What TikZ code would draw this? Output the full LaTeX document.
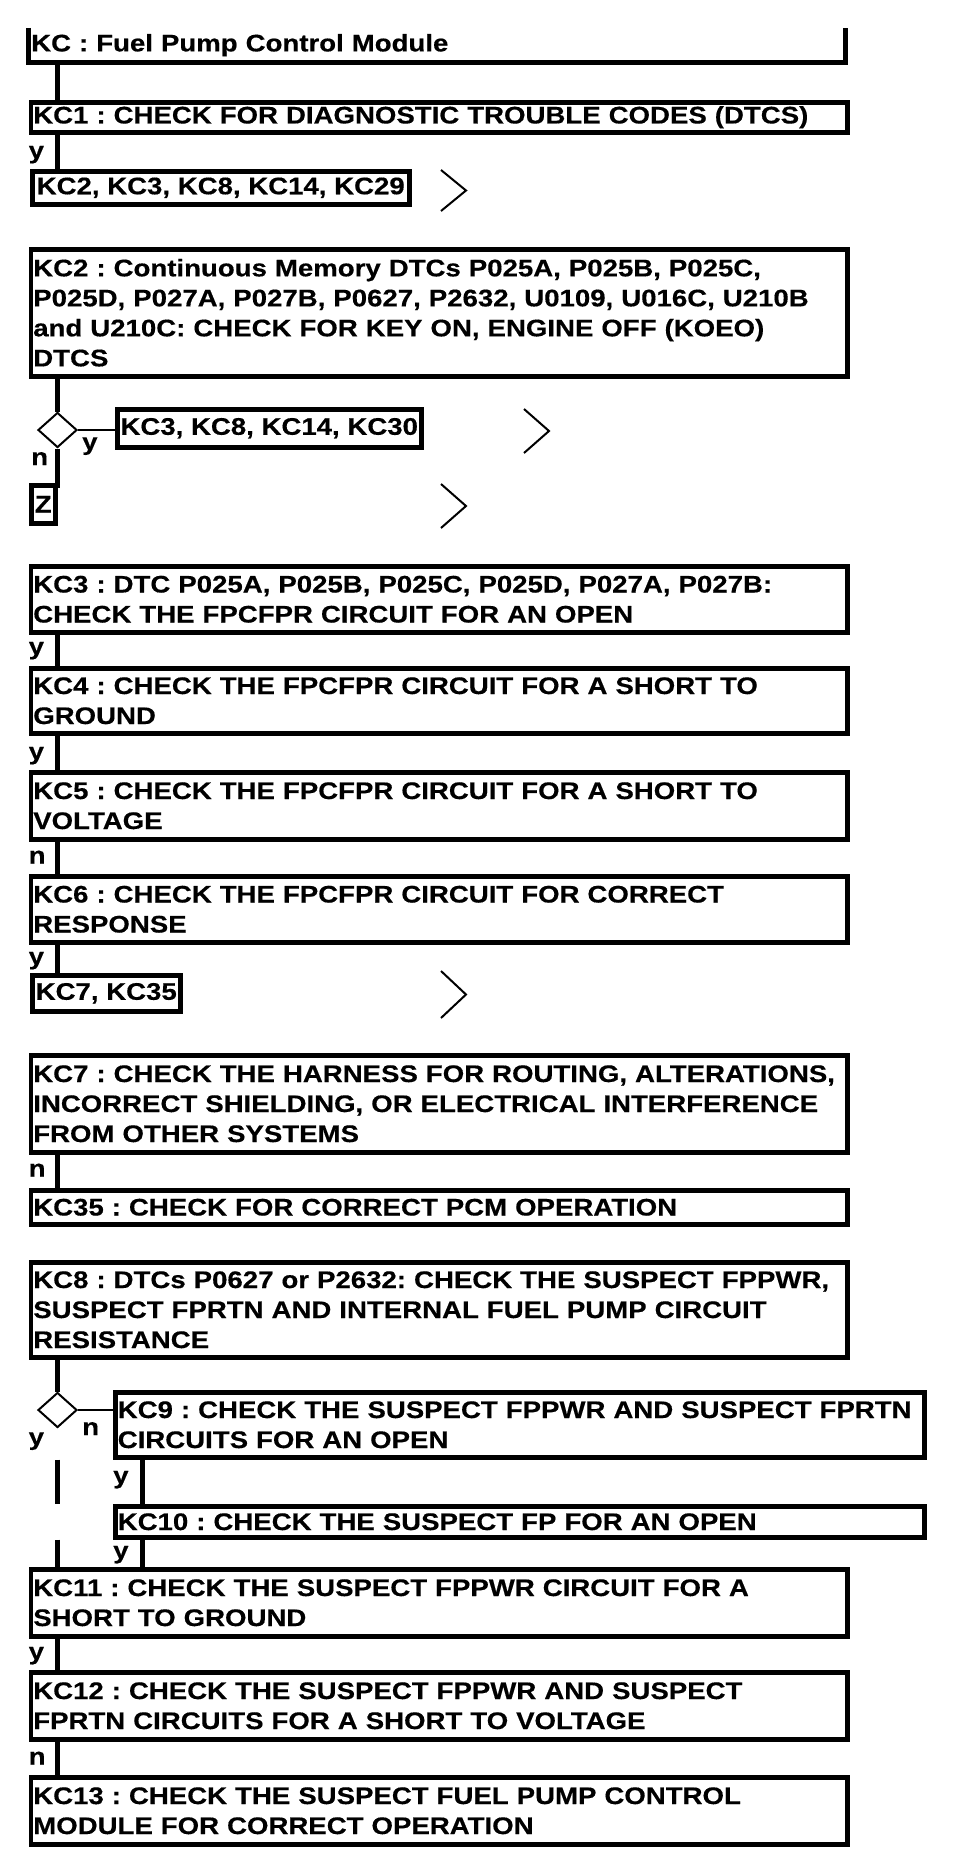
\documentclass[tikz,border=0pt]{standalone}
\usepackage{fontspec}
\setmainfont{Liberation Sans}[FakeStretch=1.15,BoldFeatures={FakeStretch=1.15,FakeBold=0.4}]
\usetikzlibrary{calc,shapes.geometric}
\frenchspacing
\begin{document}
\begin{tikzpicture}[x=1pt,y=-1pt,
  txt/.style={font=\fontsize{24pt}{30pt}\selectfont\bfseries\frenchspacing},
  box/.style={txt,draw,line width=4.5pt,rectangle,anchor=north west,inner xsep=2.5pt,inner ysep=0pt,align=left},
  bigbox/.style={box,text width=811.5pt},
  widebox/.style={box,text width=804pt},
  lbl/.style={txt,inner sep=0pt,anchor=base west},
  conn/.style={line width=5pt},
  thinline/.style={line width=2pt},
  chev/.style={line width=2pt},
  dia/.style={draw,line width=2pt,diamond,inner sep=0pt,minimum width=39pt,minimum height=35pt}]
\useasboundingbox[fill=white] (0,0) rectangle (960,1860);
\coordinate (trunk) at (57.5,0);
\coordinate (col2) at (142.5,0);

% title
\node[txt,anchor=north west,inner xsep=2.5pt,inner ysep=0pt,text width=811.5pt,minimum height=34pt,align=left] (title) at (28.5,28) {KC : Fuel Pump Control Module};
\draw[line width=4.5pt] (title.north west) -- (title.south west) -- (title.south east) -- (title.north east);

\node[bigbox,minimum height=30pt] (kc1) at (28.5,100) {KC1 : CHECK FOR DIAGNOSTIC TROUBLE CODES (DTCS)};
\node[box,minimum height=33pt,minimum width=377pt] (L1) at (30,169) {KC2, KC3, KC8, KC14, KC29};
\node[bigbox,minimum height=127pt] (kc2) at (28.5,247) {KC2 : Continuous Memory DTCs P025A, P025B, P025C,\\P025D, P027A, P027B, P0627, P2632, U0109, U016C, U210B\\and U210C: CHECK FOR KEY ON, ENGINE OFF (KOEO)\\DTCS};
\node[dia] (d1) at (57.5,430) {};
\node[box,minimum height=38pt,minimum width=304pt] (L2) at (115,407) {KC3, KC8, KC14, KC30};
\node[box,inner xsep=0pt,minimum height=38pt,minimum width=24pt] (Z) at (29,483) {Z};
\coordinate (d1end) at (57.5,488);

\node[bigbox,minimum height=66pt] (kc3) at (28.5,564) {KC3 : DTC P025A, P025B, P025C, P025D, P027A, P027B:\\CHECK THE FPCFPR CIRCUIT FOR AN OPEN};
\node[bigbox,minimum height=65pt] (kc4) at (28.5,666) {KC4 : CHECK THE FPCFPR CIRCUIT FOR A SHORT TO\\GROUND};
\node[bigbox,minimum height=67pt] (kc5) at (28.5,770) {KC5 : CHECK THE FPCFPR CIRCUIT FOR A SHORT TO\\VOLTAGE};
\node[bigbox,minimum height=66pt] (kc6) at (28.5,874) {KC6 : CHECK THE FPCFPR CIRCUIT FOR CORRECT\\RESPONSE};
\node[box,minimum height=36pt,minimum width=148pt] (L3) at (30,973) {KC7, KC35};
\node[bigbox,minimum height=97pt] (kc7) at (28.5,1053) {KC7 : CHECK THE HARNESS FOR ROUTING, ALTERATIONS,\\INCORRECT SHIELDING, OR ELECTRICAL INTERFERENCE\\FROM OTHER SYSTEMS};
\node[bigbox,minimum height=34pt] (kc35) at (28.5,1188) {KC35 : CHECK FOR CORRECT PCM OPERATION};
\node[bigbox,minimum height=95pt] (kc8) at (28.5,1260) {KC8 : DTCs P0627 or P2632: CHECK THE SUSPECT FPPWR,\\SUSPECT FPRTN AND INTERNAL FUEL PUMP CIRCUIT\\RESISTANCE};
\node[dia] (d2) at (57.5,1410) {};
\node[widebox,minimum height=65pt] (kc9) at (113,1390) {KC9 : CHECK THE SUSPECT FPPWR AND SUSPECT FPRTN\\CIRCUITS FOR AN OPEN};
\node[widebox,minimum height=31pt] (kc10) at (113,1504) {KC10 : CHECK THE SUSPECT FP FOR AN OPEN};
\node[bigbox,minimum height=67pt] (kc11) at (28.5,1567) {KC11 : CHECK THE SUSPECT FPPWR CIRCUIT FOR A\\SHORT TO GROUND};
\node[bigbox,minimum height=67pt] (kc12) at (28.5,1670) {KC12 : CHECK THE SUSPECT FPPWR AND SUSPECT\\FPRTN CIRCUITS FOR A SHORT TO VOLTAGE};
\node[bigbox,minimum height=67pt] (kc13) at (28.5,1775) {KC13 : CHECK THE SUSPECT FUEL PUMP CONTROL\\MODULE FOR CORRECT OPERATION};

% connectors
\draw[conn] (title.south -| trunk) -- (kc1.north -| trunk);
\draw[conn] (kc1.south -| trunk) -- (L1.north -| trunk);
\draw[conn] (kc2.south -| trunk) -- (d1.north);
\draw[thinline] (d1.east) -- (d1.east -| L2.west);
\draw[conn] (d1.south) -- (d1end);
\draw[conn] (kc3.south -| trunk) -- (kc4.north -| trunk);
\draw[conn] (kc4.south -| trunk) -- (kc5.north -| trunk);
\draw[conn] (kc5.south -| trunk) -- (kc6.north -| trunk);
\draw[conn] (kc6.south -| trunk) -- (L3.north -| trunk);
\draw[conn] (kc7.south -| trunk) -- (kc35.north -| trunk);
\draw[conn] (kc8.south -| trunk) -- (d2.north);
\draw[thinline] (d2.east) -- (d2.east -| kc9.west);
\draw[conn] (kc9.south -| col2) -- (kc10.north -| col2);
\draw[conn] (kc10.south -| col2) -- (kc11.north -| col2);
\draw[conn] (kc9.south -| trunk) -- (kc10.north -| trunk);
\draw[conn] (kc10.south -| trunk) -- (kc11.north -| trunk);
\draw[conn] (kc11.south -| trunk) -- (kc12.north -| trunk);
\draw[conn] (kc12.south -| trunk) -- (kc13.north -| trunk);

% labels
\node[lbl] (y1) at ($(kc1.south west)+(0,24)$) {y};
\node[lbl] (y2) at (82,450) {y};
\node[lbl] (n2) at (31,465) {n};
\node[lbl] (y3) at ($(kc3.south west)+(0,20)$) {y};
\node[lbl] (y4) at ($(kc4.south west)+(0,24)$) {y};
\node[lbl] (n5) at ($(kc5.south west)+(0,22)$) {n};
\node[lbl] (y6) at ($(kc6.south west)+(0,20)$) {y};
\node[lbl] (n7) at ($(kc7.south west)+(0,22)$) {n};
\node[lbl] (n8) at (82,1435) {n};
\node[lbl] (y8) at (28.5,1445) {y};
\node[lbl] (y9) at ($(kc9.south west)+(0,24)$) {y};
\node[lbl] (y10) at ($(kc10.south west)+(0,19)$) {y};
\node[lbl] (y11) at ($(kc11.south west)+(0,21)$) {y};
\node[lbl] (n12) at ($(kc12.south west)+(0,23)$) {n};

% chevrons
\draw[chev] (441,170) -- (466,190.5) -- (441,211);
\draw[chev] (524,409) -- (549,431) -- (524,453);
\draw[chev] (441,484) -- (466,506) -- (441,528);
\draw[chev] (441,971) -- (466,994.5) -- (441,1018);
\end{tikzpicture}
\end{document}
